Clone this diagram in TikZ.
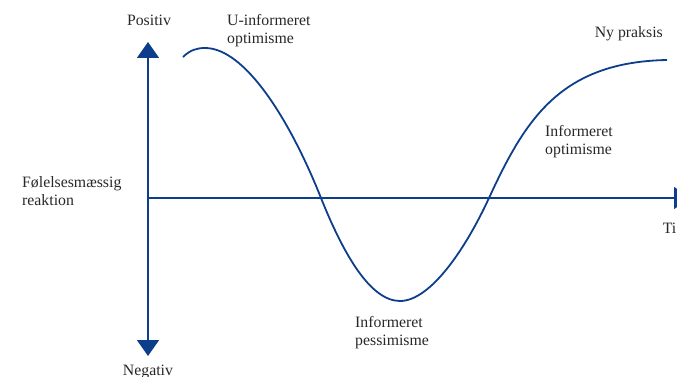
\documentclass[tikz,border=0pt]{standalone}
\usepackage{fontspec}
\setmainfont{Liberation Serif}
\usetikzlibrary{arrows.meta}
\definecolor{curveblue}{RGB}{12,62,140}
\definecolor{labelgray}{RGB}{40,40,40}
\begin{document}
\begin{tikzpicture}[x=1pt,y=-1pt,
  axis/.style={draw=curveblue, line width=1.8pt, -{Triangle[width=22pt,length=16pt]}},
  curve/.style={draw=curveblue, line width=1.8pt},
  lbl/.style={font=\fontsize{15.8}{18}\selectfont, text=labelgray, inner sep=0pt, align=left}]
\useasboundingbox (0,0) rectangle (677,377);
\coordinate (o) at (148,198);
\coordinate (top) at (148,42);
\coordinate (bot) at (148,356);
\coordinate (right) at (690,198);
\draw[axis] (o) -- (top);
\draw[axis] (o) -- (bot);
\draw[axis] (o) -- (right);
\draw[curve] (183,57) .. controls (190,50) and (197,48) .. (205,48)
  .. controls (245,48) and (290,120) .. (321,198)
  .. controls (343,253) and (370,301) .. (400,301)
  .. controls (430,301) and (465,250) .. (489,198)
  .. controls (525,120) and (560,62) .. (667,60);
\node[lbl, anchor=base] (pos) at (149,26) {Positiv};
\node[lbl, anchor=base] (neg) at (148,375) {Negativ};
\node[lbl, anchor=base west] (uinf) at (227,44) {U-informeret\\optimisme};
\node[lbl, anchor=base west] (feel) at (22,205) {Følelsesmæssig\\reaktion};
\node[lbl, anchor=base west] (pess) at (355,345) {Informeret\\pessimisme};
\node[lbl, anchor=base west] (iopt) at (545,154) {Informeret\\optimisme};
\node[lbl, anchor=base east] (ny) at (663,38) {Ny praksis};
\node[lbl, anchor=base east] (tid) at (676.5,233) {Ti};
\end{tikzpicture}
\end{document}
